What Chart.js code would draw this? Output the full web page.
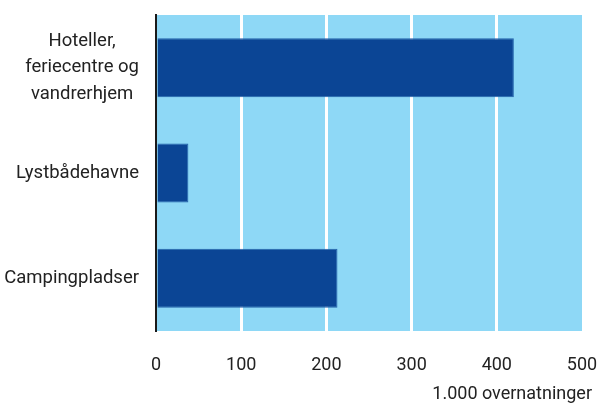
<!DOCTYPE html>
<html>
<head>
<meta charset="utf-8">
<script src="https://cdn.jsdelivr.net/npm/chart.js@4"></script>
<style>
  html, body { margin: 0; padding: 0; background: #fff; }
  #wrap { width: 601px; height: 403px; }
</style>
</head>
<body>
<div id="wrap"><canvas id="myChart" width="601" height="403"></canvas></div>
<script>
// Données
const categories = [["Hoteller,", "feriecentre og", "vandrerhjem"], "Lystbådehavne", "Campingpladser"];
const values = [420, 38, 213];
const xTicks = [0, 100, 200, 300, 400, 500];
const unitLabel = "1.000 overnatninger";

const FONT = "'Roboto', sans-serif";
const TEXT = "#222222";

// fond bleu clair de la zone de tracé
const plotBackground = {
    id: "plotBackground",
    beforeDraw(chart) {
        const { ctx, chartArea: a } = chart;
        ctx.save();
        ctx.fillStyle = "#8ed8f6";
        ctx.fillRect(a.left, a.top, a.right - a.left, a.bottom - a.top);
        ctx.restore();
    }
};

// étiquettes de catégories: bloc aligné à droite, lignes centrées
const categoryLabels = {
    id: "categoryLabels",
    afterDraw(chart) {
        const { ctx } = chart;
        const y = chart.scales.y;
        const right = y.right - 17;
        ctx.save();
        ctx.font = "18.5px " + FONT;
        ctx.fillStyle = TEXT;
        ctx.textAlign = "center";
        ctx.textBaseline = "middle";
        categories.forEach((cat, i) => {
            const lines = Array.isArray(cat) ? cat : [cat];
            const w = Math.max(...lines.map(l => ctx.measureText(l).width));
            const cx = right - w / 2;
            const lh = 26.5;
            const py = y.getPixelForTick(i);
            lines.forEach((l, j) => {
                ctx.fillText(l, cx, py + (j - (lines.length - 1) / 2) * lh);
            });
        });
        // titre de l'axe x
        ctx.textAlign = "right";
        ctx.textBaseline = "alphabetic";
        ctx.font = "18px " + FONT;
        ctx.fillText(unitLabel, chart.chartArea.right + 10, chart.height - 4);
        ctx.restore();
    }
};

drawChart();
function drawChart() {
    const config = {
        type: "bar",
        data: {
            labels: categories,
            datasets: [{
                data: values,
                backgroundColor: "#0b4595",
                borderColor: "#2262aa",
                borderWidth: 1,
                borderSkipped: "start",
                barPercentage: 0.56,
                categoryPercentage: 1
            }]
        },
        options: {
            indexAxis: "y",
            responsive: false,
            animation: false,
            layout: { padding: { top: 15, right: 19, left: 0, bottom: 0 } },
            plugins: {
                legend: { display: false },
                tooltip: { enabled: false }
            },
            scales: {
                x: {
                    min: xTicks[0],
                    max: xTicks[xTicks.length - 1],
                    afterBuildTicks: (s) => { s.ticks = xTicks.map(v => ({ value: v })); },
                    afterFit: (s) => { s.height = 72; s.paddingLeft = 0; s.paddingRight = 0; },
                    grid: {
                        drawTicks: false,
                        lineWidth: 3,
                        color: (c) => (c.tick && c.tick.value > xTicks[0] && c.tick.value < xTicks[xTicks.length - 1]) ? "#ffffff" : "rgba(0,0,0,0)"
                    },
                    border: { display: false },
                    ticks: {
                        padding: 24,
                        color: TEXT,
                        font: { family: FONT, size: 18 }
                    }
                },
                y: {
                    afterFit: (s) => { s.width = 156; },
                    grid: { display: false, drawTicks: false },
                    border: { display: true, color: "#1a1a1a", width: 2 },
                    ticks: { display: false }
                }
            }
        },
        plugins: [plotBackground, categoryLabels]
    };
    const myChart = new Chart(document.getElementById("myChart"), config);
}
</script>
</body>
</html>
